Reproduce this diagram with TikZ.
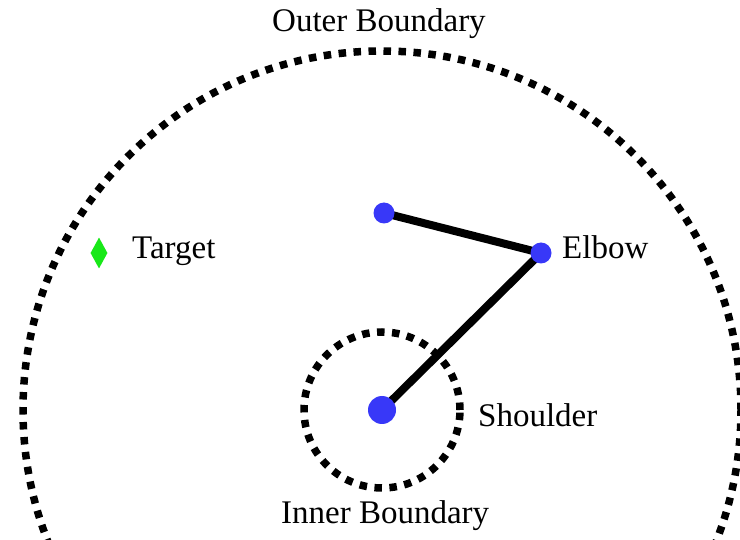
\documentclass[tikz,border=0pt]{standalone}
\usepackage{fontspec}
\setmainfont{Liberation Serif}
\usetikzlibrary{positioning, shapes.geometric, backgrounds}
\definecolor{cjoint}{HTML}{3838F8}
\definecolor{cgoal}{HTML}{18E818}
\tikzset{
  every picture/.style={x=1pt, y=-1pt},
  joint/.style={circle, fill=cjoint, inner sep=0pt, minimum size=#1},
  joint/.default=21pt,
  link/.style={draw=black, line width=8pt},
  boundary/.style={draw=black, line width=7.5pt, dash pattern=on 7.5pt off 7.5pt},
  lbl/.style={font=\fontsize{33}{39}\selectfont, inner sep=0pt, anchor=base west},
  goal/.style={diamond, fill=cgoal, inner sep=0pt, minimum width=17pt, minimum height=31pt},
}

\begin{document}
\begin{tikzpicture}
  \useasboundingbox (0,0) rectangle (740,540);
  \clip (0,0) rectangle (740,540);

  % arm
  \node[joint=28pt] (shoulder) at (382,410) {};
  \node[joint] (elbow) at (541,253) {};
  \node[joint] (hand)  at (384,213) {};
  \node[goal] (target) at (99,253) {};
  \begin{scope}[on background layer]
    \draw[link] (shoulder.center) -- (elbow.center);
    \draw[link] (elbow.center) -- (hand.center);
  \end{scope}

  % workspace
  \draw[boundary] (shoulder.center) circle (78pt);
  \draw[boundary] (shoulder.center) circle (359pt);

  % labels
  \node[lbl] (outerlbl) at (272,32) {Outer Boundary};
  \node[lbl] (innerlbl) at (281,523) {Inner Boundary};
  \node[lbl] (shoulderlbl) at (478,427) {Shoulder};
  \node[lbl] (elbowlbl) at (562,259) {Elbow};
  \node[lbl] (targetlbl) at (132,259) {Target};
\end{tikzpicture}
\end{document}
